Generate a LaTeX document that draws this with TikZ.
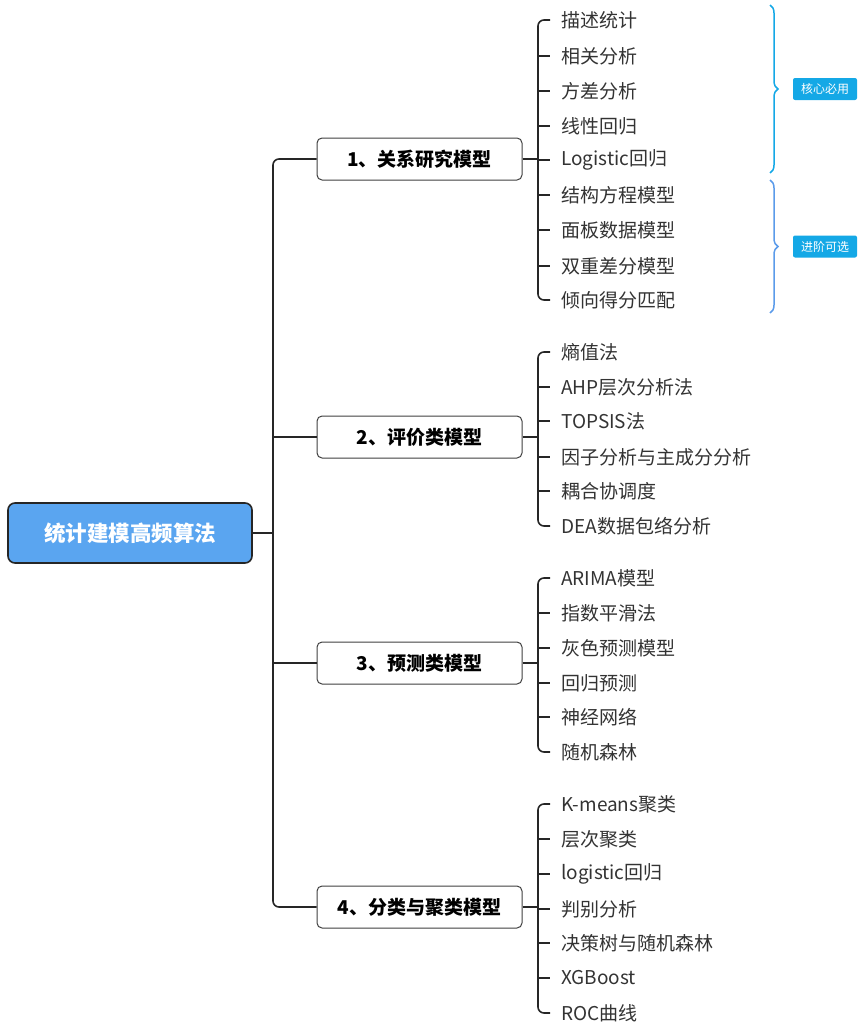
\documentclass[tikz,border=0pt]{standalone}
\usepackage{fontspec}
\setmainfont{Noto Sans CJK SC}
\usetikzlibrary{decorations.pathreplacing}
\definecolor{rootblue}{HTML}{5AA5F0}
\definecolor{tagblue}{HTML}{14A8E6}
\definecolor{brace2}{HTML}{5B9BEA}
\definecolor{txt}{HTML}{333333}
\begin{document}
\begin{tikzpicture}[x=1pt,y=-1pt,
  line/.style={line width=1.6pt,black!85},
  cat/.style={draw=black!75,line width=1pt,rounded corners=5pt,minimum width=205pt,minimum height=42pt,font=\fontsize{19}{22}\selectfont\bfseries,text=black,fill=white},
  leaf/.style={anchor=west,inner sep=0pt,font=\fontsize{19}{22}\selectfont,text=txt},
  tag/.style={fill=tagblue,text=white,font=\fontsize{12}{14}\selectfont,minimum width=64pt,minimum height=22pt,rounded corners=2pt,inner sep=1pt}]
\useasboundingbox (0,0) rectangle (865,1025);
\node[draw=black!85,line width=1.6pt,fill=rootblue,rounded corners=7pt,minimum width=244pt,minimum height=60pt,text=white,font=\fontsize{21.5}{25}\selectfont\bfseries] (root) at (130,533) {统计建模高频算法};
\coordinate (trunk) at (273,533);
\draw[line] (root.east) -- (trunk);
\node[cat] (c1) at (419.5,159) {1、关系研究模型};
\node[cat] (c2) at (419.5,437) {2、评价类模型};
\node[cat] (c3) at (419.5,663) {3、预测类模型};
\node[cat] (c4) at (419.5,907) {4、分类与聚类模型};
\foreach \c in {c1,c4}{\draw[line,rounded corners=6pt] (trunk) -- (trunk|-\c.west) -- (\c.west);}
\foreach \c in {c2,c3}{\draw[line] (trunk|-\c.west) -- (\c.west);}
% leaves
\foreach \y/\t [count=\i] in {20/描述统计,56/相关分析,91/方差分析,126/线性回归,160/Logistic回归,195/结构方程模型,230/面板数据模型,266/双重差分模型,300/倾向得分匹配}
  {\node[leaf] (a\i) at (561,\y) {\t};}
\foreach \y/\t [count=\i] in {352/熵值法,387/AHP层次分析法,421/TOPSIS法,457/因子分析与主成分分析,491/耦合协调度,526/DEA数据包络分析}
  {\node[leaf] (b\i) at (561,\y) {\t};}
\foreach \y/\t [count=\i] in {578/ARIMA模型,613/指数平滑法,648/灰色预测模型,683/回归预测,717/神经网络,752/随机森林}
  {\node[leaf] (d\i) at (561,\y) {\t};}
\foreach \y/\t [count=\i] in {804/K-means聚类,839/层次聚类,874/logistic回归,909/判别分析,943/决策树与随机森林,978/XGBoost,1013/ROC曲线}
  {\node[leaf] (e\i) at (561,\y) {\t};}
% spines
\foreach \c/\g/\n in {c1/a/9,c2/b/6,c3/d/6,c4/e/7}{
  \coordinate (s\c) at (538,0);
  \draw[line] (\c.east) -- (s\c|-\c.east);
  \draw[line,rounded corners=6pt] ([xshift=-11pt]\g1.west) -- (s\c|-\g1.west) -- (s\c|-\g\n.west) -- ([xshift=-11pt]\g\n.west);
  \pgfmathtruncatemacro{\m}{\n-1}
  \foreach \k in {2,...,\m}{\draw[line] (s\c|-\g\k.west) -- ([xshift=-11pt]\g\k.west);}
}
% braces
\coordinate (br1t) at (770,5); \coordinate (br1b) at (770,173);
\coordinate (br2t) at (770,180); \coordinate (br2b) at (770,313);
\draw[tagblue,line width=1.5pt,decorate,decoration={brace,amplitude=8pt}] (br1t) -- (br1b);
\draw[brace2,line width=1.5pt,decorate,decoration={brace,amplitude=8pt}] (br2t) -- (br2b);
\node[tag] (t1) at (825,89) {核心必用};
\node[tag] (t2) at (825,246.5) {进阶可选};
\end{tikzpicture}
\end{document}
